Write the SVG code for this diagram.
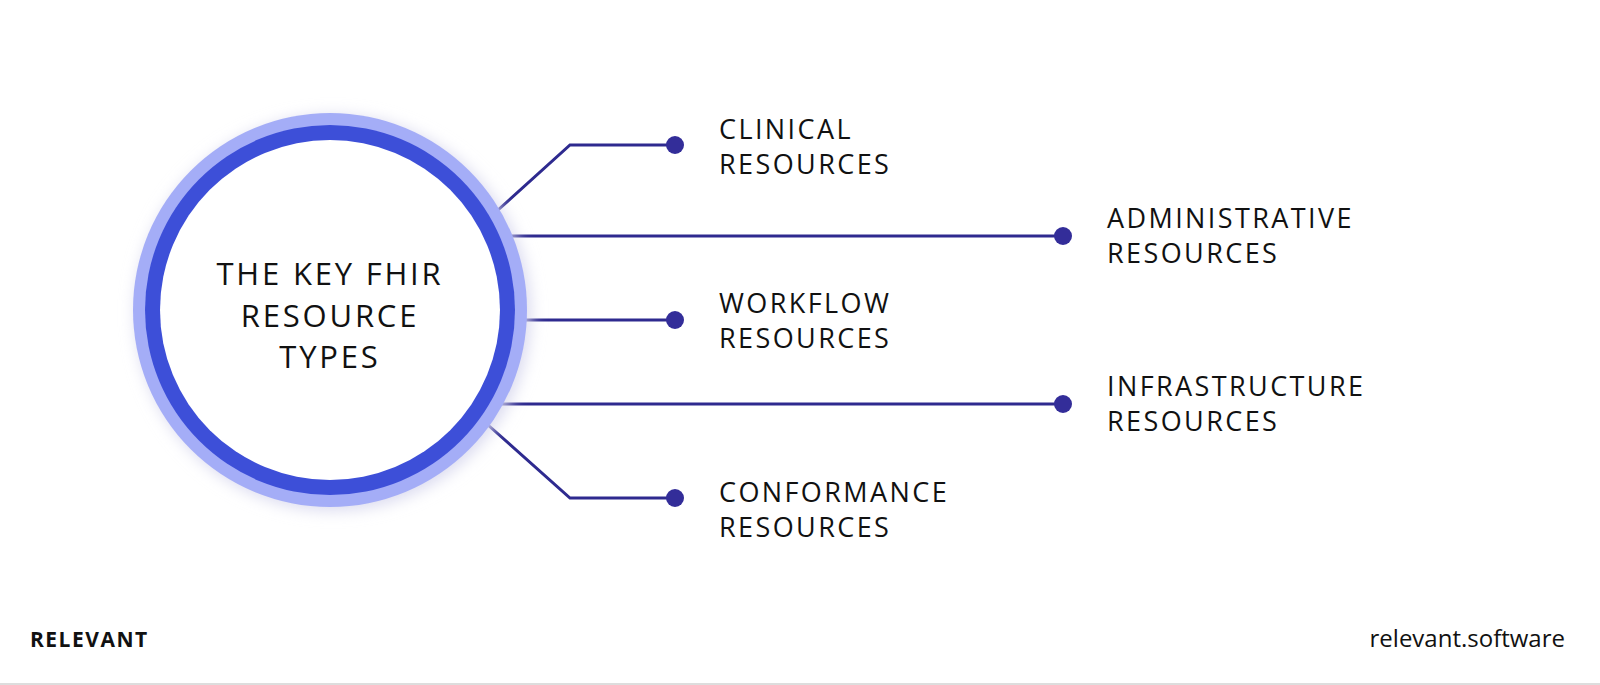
<svg xmlns="http://www.w3.org/2000/svg" width="1600" height="685" viewBox="0 0 1600 685">
<defs>
<style>
.l{font-family:"Open Sans","Liberation Sans",sans-serif;font-size:27px;font-weight:500;fill:#111;letter-spacing:2.4px}
.c{font-family:"Open Sans","Liberation Sans",sans-serif;font-size:31px;font-weight:500;fill:#111;text-anchor:middle;letter-spacing:2.8px}
.ln{fill:none;stroke:#2e2a8f;stroke-width:3}
.d{fill:#332d99}
</style>
<filter id="sh" x="-30%" y="-30%" width="160%" height="160%"><feGaussianBlur stdDeviation="8"/></filter>
</defs>
<rect width="1600" height="685" fill="#fff"/>
<g id="connectors">
<polyline class="ln" points="498,210 570,145 675,145"/>
<line class="ln" x1="512" y1="236" x2="1063" y2="236"/>
<line class="ln" x1="525" y1="320" x2="675" y2="320"/>
<line class="ln" x1="500" y1="404" x2="1063" y2="404"/>
<polyline class="ln" points="488,425 570,498 675,498"/>
<circle class="d" cx="675" cy="145" r="9"/>
<circle class="d" cx="1063" cy="236" r="9"/>
<circle class="d" cx="675" cy="320" r="9"/>
<circle class="d" cx="1063" cy="404" r="9"/>
<circle class="d" cx="675" cy="498" r="9"/>
</g>
<g id="center">
<circle cx="333" cy="313" r="197" fill="#d8d8ee" filter="url(#sh)"/>
<circle cx="330" cy="310" r="197" fill="#a4adf7"/>
<circle cx="330" cy="310" r="185" fill="#3d4fd8"/>
<circle cx="330" cy="310" r="170" fill="#fff"/>
<text class="c" x="330" y="285">THE KEY FHIR</text>
<text class="c" x="330" y="327">RESOURCE</text>
<text class="c" x="330" y="368">TYPES</text>
</g>
<g id="clinical"><text class="l" x="719" y="139">CLINICAL</text><text class="l" x="719" y="174">RESOURCES</text></g>
<g id="administrative"><text class="l" x="1107" y="228">ADMINISTRATIVE</text><text class="l" x="1107" y="263">RESOURCES</text></g>
<g id="workflow"><text class="l" x="719" y="313">WORKFLOW</text><text class="l" x="719" y="348">RESOURCES</text></g>
<g id="infrastructure"><text class="l" x="1107" y="396">INFRASTRUCTURE</text><text class="l" x="1107" y="431">RESOURCES</text></g>
<g id="conformance"><text class="l" x="719" y="502">CONFORMANCE</text><text class="l" x="719" y="537">RESOURCES</text></g>
<text x="30" y="647" font-family="'Open Sans','Liberation Sans',sans-serif" font-size="21" font-weight="bold" letter-spacing="1.5" fill="#111">RELEVANT</text>
<text x="1565" y="647" text-anchor="end" font-family="'Open Sans','Liberation Sans',sans-serif" font-size="24" fill="#111">relevant.software</text>
<rect x="0" y="683" width="1600" height="2" fill="#ddd"/>
</svg>
